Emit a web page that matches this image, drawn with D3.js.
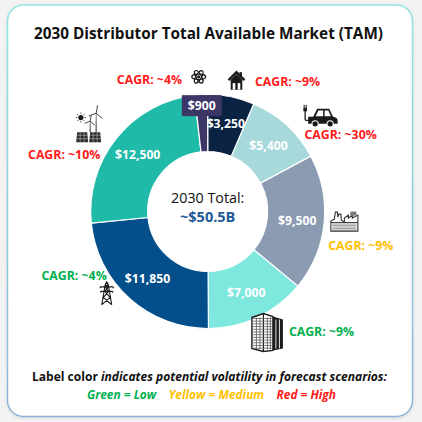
<!DOCTYPE html>
<meta charset="utf-8">
<html>
<head>
<style>
    body { margin: 0; background: #f3f3f3; }
    text { font-family: 'Open Sans', 'Noto Sans', sans-serif; }
</style>
</head>
<body>
<div id="chart"></div>
<script src="https://d3js.org/d3.v7.min.js"></script>
<script>
    // values, clockwise from 12 o'clock ($ millions)
    let segments = ['Residential', 'EV Charging', 'Industrial', 'Data Centers', 'Grid / T&D', 'Renewables', 'Nuclear'];
    let values = [3250, 5400, 9500, 7000, 11850, 12500, 900];
    let cagr = ['~9%', '~30%', '~9%', '~9%', '~4%', '~10%', '~4%'];
    let volatility = ['High', 'High', 'Medium', 'Low', 'Low', 'High', 'High'];
    let sliceColors = ['#0b2342', '#a7d8da', '#8b9bb1', '#7ee7de', '#024f8b', '#20bba8', '#3c3767'];
    let volatilityLevels = ['Low', 'Medium', 'High'];
    let volatilityNames = ['Green', 'Yellow', 'Red'];
    let volatilityColors = ['#00b050', '#ffc000', '#ff1a1a'];

    let svgWidth = 422, svgHeight = 422;
    let cx = 207.7, cy = 211.5;
    let innerR = 60, outerR = 117;

    let volColor = d3.scaleOrdinal().domain(volatilityLevels).range(volatilityColors);
    let fmt = d3.format('$,');

    // where each icon + CAGR label sits, relative to its slice
    let callouts = [
        {icon: 'house',   da: 0.8,  r: 134, lx: 18.5,  ly: 5,    anchor: 'start'},
        {icon: 'car',     da: 7.4,  r: 147, lx: 20.5,  ly: 22.5, anchor: 'middle'},
        {icon: 'factory', da: -1.7, r: 137, lx: 16.5,  ly: 29,   anchor: 'middle'},
        {icon: 'dc',      da: -1.1, r: 134, lx: 21.5,  ly: 4.5,  anchor: 'start'},
        {icon: 'tower',   da: 9,    r: 130, lx: 0,     ly: -13.5, anchor: 'end'},
        {icon: 'solar',   da: -3,   r: 147, lx: -24.5, ly: 33.5, anchor: 'middle'},
        {icon: 'atom',    da: -0.6, r: 135, lx: -16.7, ly: 7,    anchor: 'end'}
    ];

    // squeeze/stretch a line of text to the width it has in the picture
    function fit(sel, w) {
        sel.attr('textLength', w).attr('lengthAdjust', 'spacingAndGlyphs');
    }

    let svg = d3.select('#chart').append('svg')
        .attr('width', svgWidth)
        .attr('height', svgHeight);

    // card
    let defs = svg.append('defs');
    let grad = defs.append('linearGradient').attr('id', 'border')
        .attr('x1', 0).attr('y1', 0).attr('x2', 0).attr('y2', 1);
    grad.append('stop').attr('offset', '0%').attr('stop-color', '#8fe6e2');
    grad.append('stop').attr('offset', '100%').attr('stop-color', '#8db3dc');
    let shadow = defs.append('filter').attr('id', 'shadow')
        .attr('x', '-5%').attr('y', '-5%').attr('width', '110%').attr('height', '110%');
    shadow.append('feDropShadow').attr('dx', 0).attr('dy', 1).attr('stdDeviation', 1.5)
        .attr('flood-color', '#000').attr('flood-opacity', 0.12);

    svg.append('rect')
        .attr('x', 7.5).attr('y', 5).attr('width', 405).attr('height', 411.5)
        .attr('rx', 16)
        .attr('fill', '#fff')
        .attr('stroke', 'url(#border)')
        .attr('stroke-width', 1.5)
        .attr('filter', 'url(#shadow)');

    // title
    let title = svg.append('text')
        .attr('x', 208.5).attr('y', 39)
        .attr('text-anchor', 'middle')
        .attr('font-size', 15.5).attr('font-weight', 700).attr('fill', '#111')
        .text('2030 Distributor Total Available Market (TAM)');
    fit(title, 349);

    // donut
    let pie = d3.pie().sort(null).value(d => d);
    let arcs = pie(values);
    let arc = d3.arc().innerRadius(innerR).outerRadius(outerR);
    let labelArc = d3.arc().innerRadius(90).outerRadius(90);

    let g = svg.append('g').attr('transform', `translate(${cx}, ${cy})`);

    g.selectAll('path.slice')
        .data(arcs)
        .enter()
        .append('path')
        .attr('class', 'slice')
        .attr('d', arc)
        .attr('fill', (d, i) => sliceColors[i])
        .attr('stroke', '#fff')
        .attr('stroke-width', 1.2);

    // the thin $900 slice gets its label on a box above the ring
    let small = arcs[6];
    let smallArc = d3.arc().innerRadius(106).outerRadius(106);
    let smallPos = smallArc.centroid(small);

    g.selectAll('text.val')
        .data(arcs)
        .enter()
        .append('text')
        .attr('class', 'val')
        .attr('x', (d, i) => (i === 6 ? smallPos : labelArc.centroid(d))[0])
        .attr('y', (d, i) => (i === 6 ? smallPos : labelArc.centroid(d))[1])
        .attr('dy', '0.36em')
        .attr('text-anchor', 'middle')
        .attr('font-size', 12.2).attr('font-weight', 700).attr('fill', '#fff')
        .text(d => fmt(d.value));

    let smallText = g.selectAll('text.val').filter((d, i) => i === 6);
    let bb = smallText.node().getBBox();
    g.insert('rect', 'text.val')
        .attr('x', bb.x - 6).attr('y', smallPos[1] - 10.5)
        .attr('width', bb.width + 12).attr('height', 21)
        .attr('fill', sliceColors[6]);

    // centre
    g.append('text')
        .attr('y', -8.5).attr('text-anchor', 'middle')
        .attr('font-size', 14.3).attr('fill', '#111')
        .text('2030 Total:');
    g.append('text')
        .attr('y', 10.5).attr('text-anchor', 'middle')
        .attr('font-size', 14.5).attr('font-weight', 700).attr('fill', '#1f5a97')
        .text('~$50.5B');

    // icons
    let ink = '#1a1a1a';
    let drawIcon = {
        atom: function (s) {
            [0, 60, 120].forEach(a => s.append('ellipse')
                .attr('rx', 7).attr('ry', 2.7).attr('transform', `rotate(${a})`)
                .attr('fill', 'none').attr('stroke', ink).attr('stroke-width', 1.2));
            s.append('circle').attr('r', 1.6).attr('fill', ink);
        },
        house: function (s) {
            s.append('rect').attr('x', 3).attr('y', -8.5).attr('width', 2.4).attr('height', 5).attr('fill', ink);
            s.append('path').attr('d', 'M-8,-0.5 L0,-8.5 L8,-0.5')
                .attr('fill', 'none').attr('stroke', ink).attr('stroke-width', 2.2);
            s.append('path').attr('d', 'M-5.8,-1 L0,-6.6 L5.8,-1 L5.8,9 L-5.8,9 Z').attr('fill', ink);
            s.append('rect').attr('x', -3.8).attr('y', 2.5).attr('width', 2.6).attr('height', 6.5).attr('fill', '#fff');
            s.append('rect').attr('x', 1.2).attr('y', 2.5).attr('width', 2.6).attr('height', 6.5).attr('fill', '#fff');
        },
        car: function (s) {
            s.append('path')
                .attr('d', 'M-12,0 L-7,0 L-3,-8 L9,-8 L13,0 L16,1 Q17.5,2 17.5,4 L17.5,7 L-12,7 Z')
                .attr('fill', ink);
            s.append('path').attr('d', 'M-4.5,-0.5 L-1.8,-6.2 L3,-6.2 L3,-0.5 Z').attr('fill', '#fff');
            s.append('path').attr('d', 'M4.5,-0.5 L4.5,-6.2 L8.2,-6.2 L10.8,-0.5 Z').attr('fill', '#fff');
            [-5, 10].forEach(x => {
                s.append('circle').attr('cx', x).attr('cy', 7).attr('r', 3.6).attr('fill', '#fff');
                s.append('circle').attr('cx', x).attr('cy', 7).attr('r', 2.6).attr('fill', ink);
            });
            s.append('path').attr('d', 'M-12,3.5 L-14,3.5 Q-15,3.5 -15,2.5 L-15,-6')
                .attr('fill', 'none').attr('stroke', ink).attr('stroke-width', 1.3);
            s.append('rect').attr('x', -16.8).attr('y', -9).attr('width', 3.6).attr('height', 3.5).attr('fill', ink);
            s.append('path').attr('d', 'M-16,-9 L-16,-12 M-14,-9 L-14,-12')
                .attr('stroke', ink).attr('stroke-width', 1);
        },
        solar: function (s) {
            s.append('circle').attr('cx', -7.8).attr('cy', -7.7).attr('r', 2.6).attr('fill', ink);
            d3.range(8).forEach(k => {
                let a = k * Math.PI / 4;
                s.append('line')
                    .attr('x1', -7.8 + 3.6 * Math.cos(a)).attr('y1', -7.7 + 3.6 * Math.sin(a))
                    .attr('x2', -7.8 + 5 * Math.cos(a)).attr('y2', -7.7 + 5 * Math.sin(a))
                    .attr('stroke', ink).attr('stroke-width', 0.8);
            });
            [[7.5, -12, 8], [1.5, -4, 6]].forEach(t => {
                let [x, y, L] = t;
                s.append('path').attr('d', `M${x - 0.7},7 L${x - 0.3},${y} L${x + 0.3},${y} L${x + 0.7},7 Z`).attr('fill', '#555');
                [-80, 40, 160].forEach(a => {
                    let r = a * Math.PI / 180;
                    s.append('line').attr('x1', x).attr('y1', y)
                        .attr('x2', x + L * Math.cos(r)).attr('y2', y + L * Math.sin(r))
                        .attr('stroke', '#444').attr('stroke-width', 1);
                });
            });
            [-12.5, 0.5].forEach(x => {
                s.append('path').attr('d', `M${x + 1},7 L${x + 11},7 L${x + 12},17 L${x},17 Z`).attr('fill', '#2b2b2b');
                [10, 13.5].forEach(y => s.append('line').attr('x1', x).attr('x2', x + 12)
                    .attr('y1', y).attr('y2', y).attr('stroke', '#bbb').attr('stroke-width', 0.6));
                [4, 8].forEach(dx => s.append('line').attr('x1', x + dx).attr('x2', x + dx)
                    .attr('y1', 7).attr('y2', 17).attr('stroke', '#bbb').attr('stroke-width', 0.6));
            });
        },
        factory: function (s) {
            s.append('path')
                .attr('d', 'M-13.5,10 L-13.5,0 L-10,-2 L-9,-9 L-7,-9 L-6.5,-4 L-5.5,-7 L-3.5,-7 L-3,-1 L0,1 L0,-3 L4,-6 L4,-3 L8,-6 L8,-3 L13.5,-6 L13.5,10 Z')
                .attr('fill', '#fff').attr('stroke', '#333').attr('stroke-width', 1.1);
            d3.range(5).forEach(k => s.append('line')
                .attr('x1', -12).attr('x2', 12).attr('y1', 3 + k * 1.5).attr('y2', 3 + k * 1.5)
                .attr('stroke', '#777').attr('stroke-width', 0.7));
            s.append('rect').attr('x', 6).attr('y', -9.5).attr('width', 6).attr('height', 4).attr('fill', '#777');
            s.append('line').attr('x1', -13.5).attr('x2', 13.5).attr('y1', 1.5).attr('y2', 1.5)
                .attr('stroke', '#333').attr('stroke-width', 1);
        },
        dc: function (s) {
            s.append('path').attr('d', 'M5.5,-15 L15.5,-12 L15.5,17 L5.5,19 Z').attr('fill', ink);
            [8.5, 12].forEach(x => s.append('line').attr('x1', x).attr('x2', x)
                .attr('y1', -12).attr('y2', 17).attr('stroke', '#fff').attr('stroke-width', 0.9));
            s.append('path').attr('d', 'M-15.5,-14 L-4,-18 L5.5,-15 L5.5,19 L-4,20 L-15.5,17 Z')
                .attr('fill', '#fff').attr('stroke', ink).attr('stroke-width', 1.4);
            s.append('line').attr('x1', -4).attr('x2', -4).attr('y1', -18).attr('y2', 20)
                .attr('stroke', ink).attr('stroke-width', 1.2);
            d3.range(12).forEach(k => {
                let y = -13 + k * 2.7;
                s.append('line').attr('x1', -14.5).attr('x2', 4.5).attr('y1', y).attr('y2', y)
                    .attr('stroke', '#666').attr('stroke-width', 0.8);
            });
            [-11, -7.5, 0, 3].forEach(x => s.append('line').attr('x1', x).attr('x2', x)
                .attr('y1', -14).attr('y2', 18).attr('stroke', '#444').attr('stroke-width', 0.7));
        },
        tower: function (s) {
            s.append('path')
                .attr('d', 'M-5,11.5 L-1.5,-9 L0,-11.5 L1.5,-9 L5,11.5 M-6.5,-6.5 L6.5,-6.5 M-6,-2 L6,-2 M-1.5,-9 L1.5,-6.5 M1.5,-9 L-1.5,-6.5 M-1.6,-6.5 L1.9,-2 M1.6,-6.5 L-1.9,-2 M-1.9,-2 L3.3,4 M1.9,-2 L-3.3,4 M-3.3,4 L4.5,11 M3.3,4 L-4.5,11 M-6.5,-6.5 L-6.5,-5 M6.5,-6.5 L6.5,-5 M-6,-2 L-6,-0.5 M6,-2 L6,-0.5')
                .attr('fill', 'none').attr('stroke', ink).attr('stroke-width', 1.1);
        }
    };

    let ca = svg.append('g');
    arcs.forEach((d, i) => {
        let c = callouts[i];
        let a = (d.startAngle + d.endAngle) / 2 + c.da * Math.PI / 180;
        let x = cx + c.r * Math.sin(a);
        let y = cy - c.r * Math.cos(a);
        let ig = ca.append('g').attr('transform', `translate(${x}, ${y})`);
        drawIcon[c.icon](ig);
        ca.append('text')
            .attr('x', x + c.lx).attr('y', y + c.ly)
            .attr('text-anchor', c.anchor)
            .attr('font-size', 12.3).attr('font-weight', 700)
            .attr('fill', volColor(volatility[i]))
            .text('CAGR: ' + cagr[i]);
    });

    // footer
    let note = svg.append('text')
        .attr('x', 209.5).attr('y', 380.5)
        .attr('text-anchor', 'middle')
        .attr('font-size', 12.5).attr('font-weight', 700).attr('fill', '#111');
    note.append('tspan').text('Label color ');
    note.append('tspan').attr('font-style', 'italic').text('indicates potential volatility in forecast scenarios:');
    fit(note, 355);

    let key = svg.append('text')
        .attr('x', 211.5).attr('y', 399)
        .attr('text-anchor', 'middle')
        .attr('font-size', 12.5).attr('font-weight', 700).attr('font-style', 'italic');
    volatilityLevels.forEach((v, i) => {
        key.append('tspan')
            .attr('dx', i === 0 ? 0 : 13)
            .attr('fill', volatilityColors[i])
            .text(volatilityNames[i] + ' = ' + v);
    });
    fit(key, 249);
</script>
</body>
</html>
